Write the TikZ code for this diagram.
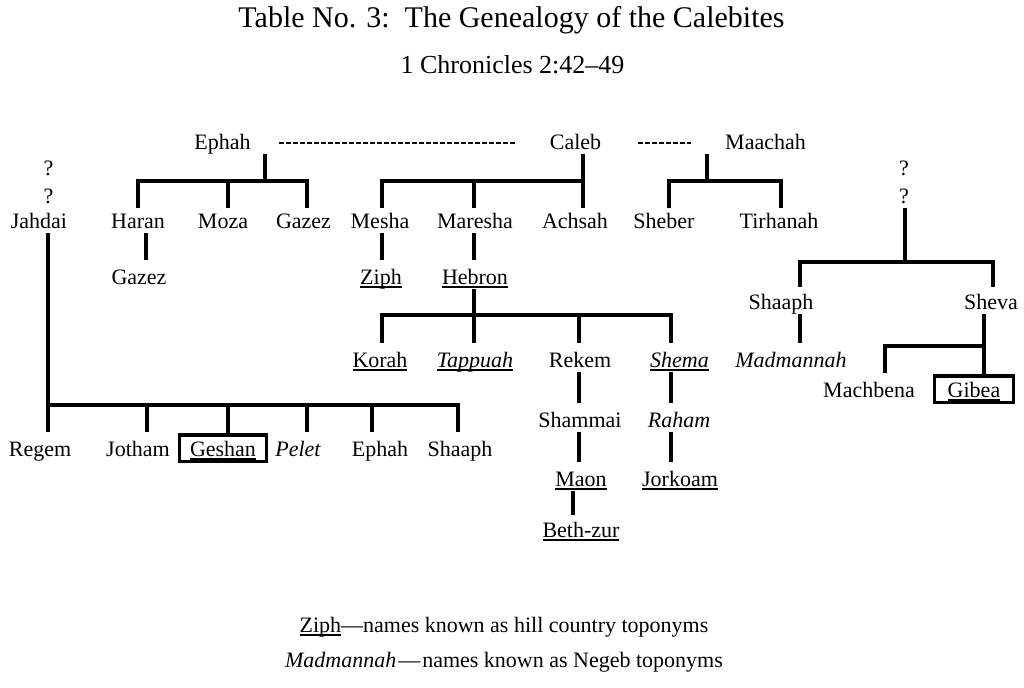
\documentclass[tikz,border=0pt]{standalone}
\usepackage{fontspec}
\setmainfont{Liberation Serif}
\newsavebox\ulbx
\newcommand\ul[1]{\sbox\ulbx{#1}\rlap{\rule[-1.9pt]{\wd\ulbx}{0.7pt}}\usebox\ulbx}
\newcommand\nmfont{\fontsize{11}{13}\selectfont}
\tikzset{
  nm/.style={inner sep=0pt, text height=12pt, text depth=2.5pt, anchor=base, font=\nmfont},
  rowA/.style={text height=10pt},
  rowB/.style={text height=11pt},
  bx/.style={draw, line width=1.7pt, inner ysep=1pt, text height=9.6pt, text depth=1.8pt},
  ln/.style={line width=2pt, line join=miter},
  dsh/.style={line width=1.4pt, dash pattern=on 2.5pt off 1pt},
  ttl/.style={inner sep=0pt, anchor=base}
}
\begin{document}
\begin{tikzpicture}[x=0.5pt,y=-0.5pt]
\useasboundingbox (0,0) rectangle (1024,687);
% titles
\node[ttl, font=\fontsize{15}{18}\selectfont] (title) at (511.5,27) {Table No. 3:\hspace{0.5em}The Genealogy of the Calebites};
\node[ttl, font=\fontsize{13}{16}\selectfont] (sub) at (512.5,73) {1 Chronicles 2:42–49};
% row 0
\node[nm] (ephah) at (222.5,149) {Ephah};
\node[nm] (caleb) at (575.5,149) {Caleb};
\node[nm] (maachah) at (765.5,149) {Maachah};
% question marks
\node[nm] (qL1) at (48.5,175) {?};
\node[nm] (qL2) at (48.5,203) {?};
\node[nm] (qR1) at (904,175) {?};
\node[nm] (qR2) at (904,203) {?};
% row 1
\node[nm,rowA] (jahdai) at (39,228) {Jahdai};
\node[nm,rowA] (haran) at (138,228) {Haran};
\node[nm,rowA] (moza) at (223,228) {Moza};
\node[nm,rowA] (gazez) at (303.5,228) {Gazez};
\node[nm,rowA] (mesha) at (380,228) {Mesha};
\node[nm,rowA] (maresha) at (475,228) {Maresha};
\node[nm,rowA] (achsah) at (575,228) {Achsah};
\node[nm,rowA] (sheber) at (664,228) {Sheber};
\node[nm,rowA] (tirhanah) at (779,228) {Tirhanah};
% row 2
\node[nm] (gazezB) at (139,284) {Gazez};
\node[nm] (ziph) at (381,284) {\ul{Ziph}};
\node[nm] (hebron) at (475,284) {\ul{Hebron}};
% right branch
\node[nm,rowB] (shaaphR) at (781,309) {Shaaph};
\node[nm,rowB] (sheva) at (991,309) {Sheva};
% row 3
\node[nm] (korah) at (380,367) {\ul{Korah}};
\node[nm] (tappuah) at (475,367) {\ul{\itshape Tappuah}};
\node[nm] (rekem) at (580,367) {Rekem};
\node[nm] (shema) at (679.5,367) {\ul{\itshape Shema}};
\node[nm] (madmannah) at (791,367) {\itshape Madmannah};
\node[nm] (machbena) at (869,397) {Machbena};
\node[nm,bx,inner xsep=6.65pt] (gibea) at (974,397) {\ul{Gibea}};
% row 4
\node[nm] (shammai) at (580,427) {Shammai};
\node[nm] (raham) at (679,427) {\itshape Raham};
\node[nm] (regem) at (40,456) {Regem};
\node[nm] (jotham) at (138,456) {Jotham};
\node[nm,bx,inner xsep=5.3pt] (geshan) at (223,456) {\ul{Geshan}};
\node[nm] (pelet) at (298,456) {\itshape Pelet};
\node[nm] (ephahB) at (380,456) {Ephah};
\node[nm] (shaaphB) at (460,456) {Shaaph};
% row 5
\node[nm] (maon) at (581,486) {\ul{Maon}};
\node[nm] (jorkoam) at (680,486) {\ul{Jorkoam}};
\node[nm,rowB] (bethzur) at (581,537) {\ul{Beth-zur}};
% legend
\node[ttl, font=\nmfont] (leg1) at (504,632) {\ul{Ziph}—names known as hill country toponyms};
\node[ttl, font=\nmfont] (leg2) at (504,667) {{\itshape Madmannah}\kern1pt—\kern1pt names known as Negeb toponyms};

% marriage dashes
\draw[dsh] ([xshift=14pt,yshift=3pt]ephah.base east) -- ([xshift=-16.5pt,yshift=3pt]caleb.base west);
\draw[dsh] ([xshift=18pt,yshift=3pt]caleb.base east) -- ([xshift=-17pt,yshift=3pt]maachah.base west);

% Ephah family
\coordinate (eJ) at (265,181);
\coordinate (eA) at (138,181);
\coordinate (eB) at (228,181);
\coordinate (eC) at (307,181);
\coordinate (hg) at (146,181);
\draw[ln] (ephah.south -| eJ) -- (eJ);
\draw[ln] (eA |- haran.north) -- (eA) -- (eC) -- (eC |- gazez.north);
\draw[ln] (eB) -- (eB |- moza.north);
\draw[ln] (hg |- haran.south) -- (hg |- gazezB.north);

% Caleb family
\coordinate (cJ) at (583,181);
\coordinate (cA) at (382,181);
\coordinate (cB) at (474,181);
\draw[ln] (caleb.south -| cJ) -- (cJ |- achsah.north);
\draw[ln] (cA |- mesha.north) -- (cA) -- (cJ);
\draw[ln] (cB) -- (cB |- maresha.north);
\draw[ln] (cA |- mesha.south) -- (cA |- ziph.north);
\draw[ln] (cB |- maresha.south) -- (cB |- hebron.north);

% Hebron family
\coordinate (hJ) at (474,315);
\coordinate (hA) at (382,315);
\coordinate (hC) at (579,315);
\coordinate (hD) at (671,315);
\coordinate (mz) at (573,490);
\draw[ln] (hJ |- hebron.south) -- (hJ |- tappuah.north);
\draw[ln] (hA |- korah.north) -- (hA) -- (hD) -- (hD |- shema.north);
\draw[ln] (hC) -- (hC |- rekem.north);
\draw[ln] (hC |- rekem.south) -- (hC |- shammai.north);
\draw[ln] (hC |- shammai.south) -- (hC |- maon.north);
\draw[ln] (mz |- maon.south) -- (mz |- bethzur.north);
\draw[ln] (hD |- shema.south) -- (hD |- raham.north);
\draw[ln] (hD |- raham.south) -- (hD |- jorkoam.north);

% Maachah family
\coordinate (mJ) at (707,181);
\coordinate (mA) at (669,181);
\coordinate (mB) at (781,181);
\draw[ln] (maachah.south -| mJ) -- (mJ);
\draw[ln] (mA |- sheber.north) -- (mA) -- (mB) -- (mB |- tirhanah.north);

% right unknown family
\coordinate (rJ) at (905,262);
\coordinate (rA) at (800,262);
\coordinate (rB) at (993,262);
\draw[ln] (rJ |- qR2.south) -- (rJ);
\draw[ln] (rA |- shaaphR.north) -- (rA) -- (rB) -- (rB |- sheva.north);
\draw[ln] (rA |- shaaphR.south) -- (rA |- madmannah.north);
\coordinate (sJ) at (984,346);
\coordinate (sA) at (885,346);
\draw[ln] (sJ |- sheva.south) -- (sJ |- gibea.north);
\draw[ln] (sA |- machbena.north) -- (sA) -- (sJ);

% Jahdai family
\coordinate (jJ) at (48,405);
\coordinate (jB) at (147,405);
\coordinate (jC) at (228,405);
\coordinate (jD) at (307,405);
\coordinate (jE) at (372,405);
\coordinate (jF) at (458,405);
\draw[ln] (jJ |- jahdai.south) -- (jJ |- regem.north);
\draw[ln] (jJ) -- (jF) -- (jF |- shaaphB.north);
\draw[ln] (jB) -- (jB |- jotham.north);
\draw[ln] (jC) -- (jC |- geshan.north);
\draw[ln] (jD) -- (jD |- pelet.north);
\draw[ln] (jE) -- (jE |- ephahB.north);
\end{tikzpicture}
\end{document}
